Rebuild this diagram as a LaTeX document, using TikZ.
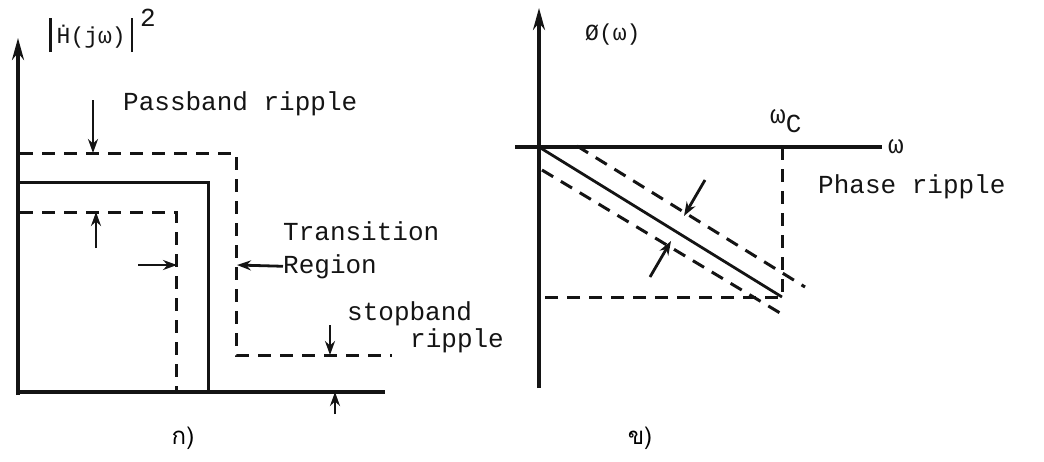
\documentclass[tikz,border=0pt]{standalone}
\usepackage{fontspec}
\setmonofont{Liberation Mono}
\newfontfamily\thaifont[Script=Thai]{Loma}
\usetikzlibrary{arrows.meta}
\definecolor{inkc}{HTML}{141414}

\tikzset{
  lbl/.style={font=\ttfamily\fontsize{26}{28}\selectfont, inner sep=0pt, text=inkc},
  axis/.style={line width=3.2pt, inkc},
  dsh/.style={line width=3pt, inkc, dash pattern=on 13pt off 9pt},
  ptr/.style={line width=2.8pt, inkc, -{Stealth[length=14pt,width=10pt]}}
}

\begin{document}
\begin{tikzpicture}[x=1pt,y=-1pt]
  \useasboundingbox (0,0) rectangle (1044,461);

  % left: magnitude
  \coordinate (o1) at (18,392);
  \coordinate (ytop1) at (18,38);
  \coordinate (xend1) at (385,392);
  \draw[axis, -{Stealth[length=22pt,width=12pt]}] (18,395) -- (ytop1);
  \draw[axis] (o1) -- (xend1);
  \node[lbl, anchor=base west, font=\ttfamily\fontsize{23}{25}\selectfont] (hlbl) at (49,43)
    {\rule[-9pt]{2.5pt}{34pt}\hspace{5pt}\.H(jω)\hspace{5pt}\rule[-9pt]{2.5pt}{34pt}\hspace{7pt}\raisebox{17pt}{\fontsize{26}{28}\selectfont 2}};

  \coordinate (pbhi) at (20,153);
  \coordinate (pbcorner) at (236,153);
  \coordinate (sbcorner) at (236,355);
  \coordinate (sbend) at (392,355);
  \draw[dsh] (pbhi) -- (pbcorner) -- (sbcorner) -- (sbend);
  \draw[axis, line width=3pt] (18,182) -- (208,182) -- (208,392);
  \coordinate (pblo) at (20,212);
  \coordinate (pbedge) at (176,212);
  \draw[dsh] (pblo) -- (pbedge) -- (176,392);

  \node[lbl, anchor=base west] (pbtext) at (123,110) {Passband ripple};
  \node[lbl, anchor=base west] (trtext) at (283,240) {Transition};
  \node[lbl, anchor=base west] (rgtext) at (283,273) {Region};
  \node[lbl, anchor=base west] (sbtext) at (347,320) {stopband};
  \node[lbl, anchor=base west] (sbtext2) at (410,347) {ripple};

  \coordinate (a1s) at (93,100);  \coordinate (a1e) at (93,153);
  \coordinate (a2s) at (96,248);  \coordinate (a2e) at (96,212);
  \coordinate (a3s) at (138,265); \coordinate (a3e) at (177,265);
  \coordinate (a4e) at (237,265);
  \coordinate (a5s) at (330,325); \coordinate (a5e) at (330,355);
  \coordinate (a6s) at (335,414); \coordinate (a6e) at (335,392);
  \draw[ptr] (a1s) -- (a1e);
  \draw[ptr] (a2s) -- (a2e);
  \draw[ptr] (a3s) -- (a3e);
  \draw[ptr] (rgtext.west) -- (a4e);
  \draw[ptr] (a5s) -- (a5e);
  \draw[ptr] (a6s) -- (a6e);

  \node[font=\thaifont\fontsize{24}{26}\selectfont, inner sep=0pt] (capa) at (183,438) {ก)};

  % right: phase
  \coordinate (o2) at (539,147);
  \coordinate (ytop2) at (539,8);
  \coordinate (xend2) at (882,147);
  \coordinate (wc) at (782,147);
  \draw[axis, -{Stealth[length=22pt,width=12pt]}] (539,388) -- (ytop2);
  \draw[axis] (515,147) -- (xend2);
  \node[lbl, anchor=base west] (wlbl) at (888,153) {ω};
  \node[lbl, anchor=base west] (wclbl) at (770,123) {ω\raisebox{-9pt}{C}};
  \node[lbl, anchor=base west, font=\ttfamily\fontsize{23}{25}\selectfont] (philbl) at (585,40) {Ø(ω)};

  \coordinate (wcbot) at (782,297);
  \draw[dsh] (wc) -- (wcbot) -- (542,297);
  \draw[axis, line width=2.8pt] (o2) -- (wcbot);
  \draw[dsh] (577,146) -- (805,287);
  \draw[dsh] (542,170) -- (785,316);

  \coordinate (b1s) at (705,180); \coordinate (b1e) at (684,216);
  \coordinate (b2s) at (650,277); \coordinate (b2e) at (671,241);
  \draw[ptr] (b1s) -- (b1e);
  \draw[ptr] (b2s) -- (b2e);
  \node[lbl, anchor=base west] (phtext) at (818,193) {Phase ripple};

  \node[font=\thaifont\fontsize{24}{26}\selectfont, inner sep=0pt] (capb) at (640,438) {ข)};
\end{tikzpicture}
\end{document}
